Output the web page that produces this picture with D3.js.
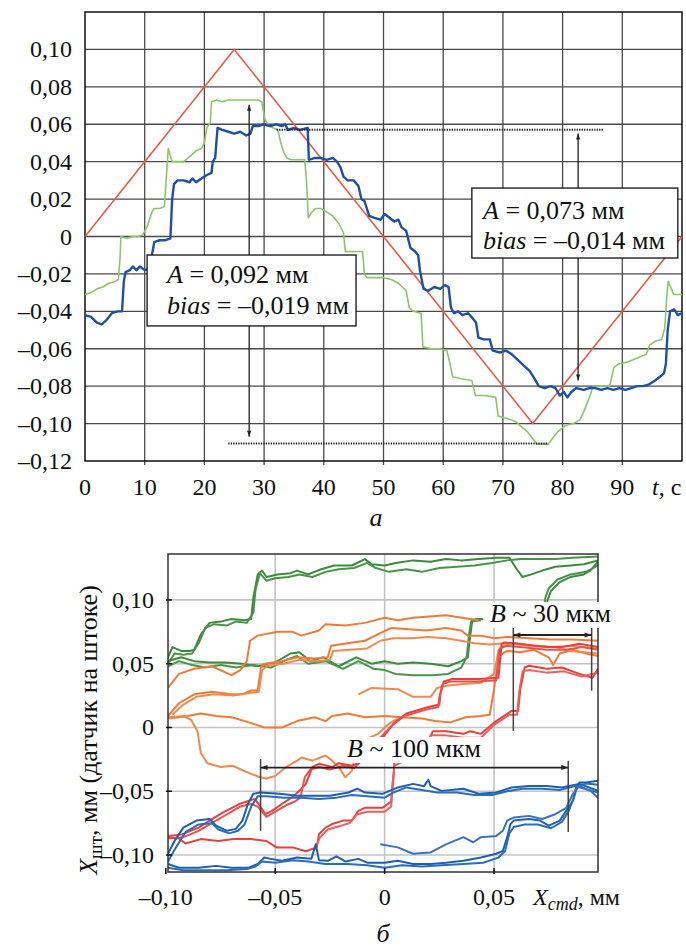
<!DOCTYPE html>
<html><head><meta charset="utf-8">
<script src="https://cdn.jsdelivr.net/npm/d3@7/dist/d3.min.js"></script>
<style>
body{margin:0;background:#fff;font-family:serif}
svg{display:block}
svg text, svg tspan{font-family:"Times New Roman","Liberation Serif",Tinos,serif !important}
</style>
</head><body><svg id="c" width="686" height="947"></svg>
<script>
// ---------- TOP CHART DATA (t, s ; mm) ----------
const topXTicks=[0,10,20,30,40,50,60,70,80,90];
const topYTicks=[-0.12,-0.10,-0.08,-0.06,-0.04,-0.02,0,0.02,0.04,0.06,0.08,0.10];
const redCmd=[[0,0],[25,0.1],[75,-0.1],[100,0]];
const blueRod=[[0,-0.042],[1,-0.043],[2,-0.046],[2.8,-0.047],[3.5,-0.045],[4.5,-0.041],[5.5,-0.040],[6.2,-0.040],[6.5,-0.024],[6.8,-0.019],[7.5,-0.018],[8,-0.016],[8.6,-0.018],[9.2,-0.016],[10,-0.018],[10.8,-0.017],[11.2,-0.010],[11.6,-0.003],[12.5,-0.002],[13.5,-0.002],[14.3,-0.001],[14.6,0.020],[14.9,0.028],[15.5,0.030],[16.5,0.030],[17.5,0.029],[18,0.031],[18.6,0.029],[19.5,0.031],[20.5,0.033],[21.2,0.034],[21.4,0.040],[21.8,0.042],[22.2,0.058],[23,0.057],[24,0.056],[25,0.055],[26,0.056],[27,0.054],[27.7,0.055],[28.1,0.059],[29,0.059],[30,0.060],[31,0.059],[32,0.060],[33,0.059],[33.5,0.060],[34,0.057],[35,0.058],[36,0.057],[37.3,0.058],[37.5,0.041],[38.5,0.042],[39.5,0.042],[40.5,0.041],[41.5,0.042],[42.2,0.040],[42.8,0.037],[43.3,0.032],[44,0.030],[45,0.030],[45.8,0.027],[46.3,0.020],[46.8,0.019],[47.2,0.015],[47.6,0.011],[48.5,0.010],[49.5,0.009],[50.2,0.012],[51,0.010],[51.8,0.008],[52.5,0.009],[53,0.005],[53.8,0.003],[54.5,-0.006],[55.3,-0.008],[55.8,-0.010],[56.1,-0.018],[56.7,-0.028],[57.5,-0.029],[58.5,-0.027],[59.5,-0.028],[60.3,-0.026],[60.9,-0.027],[61.3,-0.038],[61.8,-0.041],[62.5,-0.040],[63.2,-0.042],[64.2,-0.041],[65,-0.044],[65.5,-0.046],[65.9,-0.054],[66.8,-0.055],[67.8,-0.055],[68.3,-0.061],[69.5,-0.062],[70.5,-0.061],[71.5,-0.063],[72.5,-0.066],[73.5,-0.069],[74.5,-0.072],[75.3,-0.076],[76,-0.080],[77,-0.081],[78,-0.080],[78.8,-0.081],[79.5,-0.085],[80.2,-0.083],[80.8,-0.086],[81.5,-0.083],[82.3,-0.081],[83.5,-0.082],[84.5,-0.081],[85.5,-0.081],[86.5,-0.082],[87.5,-0.081],[88.5,-0.082],[89.5,-0.081],[90.5,-0.082],[91.5,-0.081],[92.5,-0.080],[93.5,-0.080],[94.5,-0.079],[95.5,-0.077],[96.3,-0.075],[97,-0.073],[97.3,-0.068],[97.6,-0.050],[98,-0.040],[98.7,-0.039],[99.3,-0.042],[100,-0.041]];
const greenRod=[[0,-0.031],[1,-0.030],[2,-0.028],[3,-0.027],[4,-0.025],[5,-0.024],[5.6,-0.023],[5.9,-0.010],[6.0,0.000],[7,-0.001],[8,0.000],[9,0.000],[9.7,0.001],[10.5,0.006],[11.2,0.013],[11.6,0.015],[12.5,0.015],[13.3,0.016],[13.7,0.035],[13.95,0.047],[14.3,0.043],[14.6,0.040],[15.5,0.040],[16.5,0.040],[17.3,0.042],[18,0.044],[18.7,0.046],[19.5,0.047],[20,0.050],[20.4,0.058],[21,0.061],[21.2,0.072],[22,0.073],[23,0.072],[24,0.073],[25,0.073],[26,0.073],[27,0.073],[28,0.073],[29,0.073],[29.6,0.072],[30.1,0.063],[30.6,0.060],[31.5,0.058],[32.3,0.057],[32.8,0.050],[33.3,0.045],[33.8,0.042],[34.5,0.041],[35.5,0.041],[36.8,0.041],[37.1,0.030],[37.4,0.010],[38,0.013],[38.6,0.015],[39.5,0.015],[40.5,0.013],[41.5,0.011],[42.5,0.007],[43.3,0.002],[43.6,-0.008],[44.5,-0.008],[45.5,-0.008],[46.5,-0.008],[46.8,-0.020],[47.2,-0.022],[48.5,-0.022],[50,-0.022],[51.3,-0.023],[52.5,-0.025],[53.8,-0.029],[54.3,-0.038],[55,-0.040],[56.3,-0.041],[56.6,-0.059],[58,-0.060],[59.5,-0.060],[60.6,-0.061],[61,-0.066],[61.6,-0.075],[63,-0.076],[64.8,-0.077],[65.4,-0.085],[67,-0.085],[68.8,-0.086],[69.2,-0.096],[70.5,-0.097],[72.2,-0.099],[73.2,-0.102],[74,-0.104],[75,-0.108],[75.7,-0.111],[76.5,-0.111],[77.6,-0.111],[78.5,-0.107],[79.3,-0.104],[80.5,-0.101],[81.8,-0.100],[82.9,-0.098],[83.5,-0.094],[84,-0.090],[84.6,-0.085],[85.1,-0.080],[86.5,-0.080],[87.9,-0.080],[88.3,-0.074],[88.6,-0.070],[89.5,-0.068],[91,-0.067],[92.5,-0.065],[94,-0.063],[94.6,-0.058],[95.5,-0.056],[96.6,-0.055],[97.1,-0.049],[97.5,-0.030],[97.7,-0.024],[98.1,-0.027],[98.6,-0.031],[100,-0.031]];
const dotTop=[[32.1,0.057],[86.8,0.057]];
const dotBottom=[[24,-0.1106],[77.6,-0.1106]];
const arrowLeft=[[27.5,0.0704],[27.5,-0.107]];
const arrowRight=[[82.6,0.055],[82.6,-0.077]];

// ---------- BOTTOM CHART DATA (X_cmd, mm ; X_rod, mm) ----------
const botXTicks=[-0.10,-0.05,0,0.05];
const botYTicks=[-0.10,-0.05,0,0.05,0.10];
const green1a=[[-0.099,0.055],[-0.097,0.063],[-0.093,0.060],[-0.089,0.060],[-0.087,0.061],[-0.084,0.073],[-0.080,0.082],[-0.075,0.083],[-0.070,0.085],[-0.064,0.084],[-0.061,0.085],[-0.060,0.102],[-0.058,0.120],[-0.056,0.123],[-0.054,0.118],[-0.049,0.120],[-0.043,0.121],[-0.040,0.123],[-0.035,0.120],[-0.029,0.124],[-0.023,0.127],[-0.015,0.127],[-0.009,0.132],[-0.006,0.128],[0,0.127],[0.005,0.129],[0.013,0.131],[0.021,0.130],[0.028,0.132],[0.035,0.131],[0.043,0.132],[0.051,0.133],[0.057,0.133],[0.060,0.125],[0.063,0.118],[0.067,0.120],[0.072,0.123],[0.078,0.126],[0.085,0.127],[0.091,0.128],[0.0975,0.131]];
const green1b=[[-0.099,0.050],[-0.096,0.058],[-0.092,0.057],[-0.088,0.058],[-0.085,0.066],[-0.082,0.078],[-0.078,0.081],[-0.072,0.080],[-0.068,0.083],[-0.063,0.082],[-0.060,0.090],[-0.059,0.108],[-0.057,0.121],[-0.054,0.115],[-0.050,0.117],[-0.044,0.118],[-0.039,0.120],[-0.033,0.118],[-0.027,0.122],[-0.021,0.124],[-0.014,0.125],[-0.008,0.129],[-0.004,0.125],[0.002,0.122],[0.010,0.124],[0.017,0.122],[0.025,0.125],[0.033,0.126],[0.041,0.127],[0.049,0.129],[0.056,0.131],[0.062,0.132],[0.070,0.132],[0.078,0.132],[0.086,0.133],[0.0975,0.134]];
const green2a=[[0.0735,0.090],[0.0745,0.100],[0.076,0.107],[0.080,0.114],[0.085,0.118],[0.091,0.120],[0.094,0.123],[0.0975,0.130]];
const green2b=[[0.0725,0.092],[0.0735,0.102],[0.075,0.109],[0.079,0.116],[0.085,0.120],[0.092,0.122],[0.0975,0.127]];
const green3a=[[-0.099,0.052],[-0.093,0.055],[-0.087,0.052],[-0.080,0.051],[-0.073,0.051],[-0.065,0.050],[-0.058,0.048],[-0.050,0.051],[-0.043,0.058],[-0.039,0.059],[-0.034,0.052],[-0.028,0.055],[-0.021,0.048],[-0.013,0.055],[-0.006,0.050],[0,0.052],[0.006,0.050],[0.013,0.051],[0.021,0.050],[0.029,0.048],[0.035,0.052],[0.038,0.055],[0.039,0.070],[0.040,0.084],[0.042,0.085],[0.045,0.085]];
const green3b=[[-0.099,0.048],[-0.094,0.052],[-0.088,0.049],[-0.082,0.047],[-0.075,0.049],[-0.068,0.047],[-0.060,0.049],[-0.052,0.047],[-0.045,0.053],[-0.040,0.056],[-0.035,0.050],[-0.027,0.052],[-0.019,0.046],[-0.012,0.052],[-0.005,0.046],[0,0.045],[0.005,0.042],[0.013,0.041],[0.022,0.041],[0.029,0.042],[0.035,0.047],[0.0375,0.055],[0.0385,0.072],[0.0395,0.083],[0.044,0.084]];
const orangeA=[[-0.099,0.031],[-0.094,0.042],[-0.087,0.046],[-0.079,0.048],[-0.070,0.041],[-0.066,0.045],[-0.063,0.052],[-0.0615,0.068],[-0.058,0.072],[-0.049,0.075],[-0.042,0.075],[-0.038,0.072],[-0.030,0.076],[-0.027,0.081],[-0.018,0.080],[-0.009,0.082],[0,0.086],[0.006,0.084],[0.013,0.086],[0.028,0.088],[0.039,0.085],[0.043,0.084]];
const orangeB=[[-0.099,0.009],[-0.094,0.019],[-0.087,0.026],[-0.079,0.028],[-0.070,0.026],[-0.065,0.026],[-0.061,0.029],[-0.058,0.029],[-0.0565,0.047],[-0.055,0.050],[-0.047,0.052],[-0.040,0.055],[-0.032,0.054],[-0.026,0.055],[-0.0245,0.064],[-0.017,0.066],[-0.009,0.068],[-0.002,0.074],[0.003,0.078],[0.011,0.077],[0.019,0.076],[0.028,0.078],[0.035,0.076],[0.038,0.072],[0.044,0.072],[0.050,0.070],[0.056,0.071],[0.066,0.070],[0.076,0.069],[0.086,0.069],[0.0975,0.068]];
const orangeC=[[-0.097,0.010],[-0.092,0.018],[-0.086,0.024],[-0.078,0.026],[-0.069,0.025],[-0.062,0.027],[-0.0575,0.028],[-0.056,0.045],[-0.053,0.049],[-0.046,0.050],[-0.039,0.053],[-0.031,0.052],[-0.025,0.053],[-0.0235,0.060],[-0.016,0.061],[-0.008,0.062],[-0.002,0.068],[0.004,0.070],[0.012,0.070],[0.020,0.071],[0.028,0.070],[0.035,0.068],[0.041,0.066],[0.048,0.065],[0.055,0.066],[0.066,0.064],[0.076,0.063],[0.086,0.064],[0.0975,0.062]];
const orangeD=[[-0.099,0.007],[-0.094,0.008],[-0.090,0.009],[-0.084,0.011],[-0.077,0.009],[-0.070,0.008],[-0.062,0.004],[-0.055,0.000],[-0.047,0.000],[-0.040,0.005],[-0.032,0.008],[-0.027,0.005],[-0.024,0.009],[-0.017,0.011],[-0.009,0.008],[0,0.009],[0.008,0.008],[0.017,0.007],[0.023,0.005],[0.030,0.004],[0.037,0.008],[0.044,0.009],[0.048,0.010],[0.050,0.030],[0.0515,0.048],[0.053,0.057],[0.056,0.060],[0.062,0.059],[0.068,0.061],[0.075,0.055],[0.077,0.049],[0.080,0.058],[0.086,0.061],[0.092,0.058],[0.0975,0.056]];
const orangeE=[[-0.012,0.026],[-0.006,0.031],[0.006,0.030],[0.013,0.024],[0.021,0.024],[0.024,0.031],[0.029,0.033],[0.036,0.034],[0.044,0.035],[0.050,0.042],[0.052,0.060],[0.054,0.064],[0.060,0.066],[0.068,0.064],[0.078,0.063],[0.085,0.060],[0.0975,0.058]];
const orangeF=[[-0.099,0.008],[-0.092,0.009],[-0.0885,0.006],[-0.0855,-0.003],[-0.084,-0.020],[-0.081,-0.028],[-0.075,-0.031],[-0.0695,-0.030],[-0.063,-0.035],[-0.057,-0.039],[-0.054,-0.040],[-0.050,-0.038],[-0.045,-0.031],[-0.040,-0.026],[-0.038,-0.0235],[-0.033,-0.026],[-0.027,-0.022],[-0.024,-0.026],[-0.021,-0.031],[-0.018,-0.039],[-0.015,-0.034],[-0.013,-0.018],[-0.010,-0.013],[-0.007,-0.008],[-0.003,-0.005],[0.002,0.003],[0.006,0.007]];
const red1a=[[-0.099,-0.085],[-0.093,-0.084],[-0.085,-0.0785],[-0.080,-0.073],[-0.074,-0.0667],[-0.0665,-0.060],[-0.062,-0.0575],[-0.0595,-0.056],[-0.0575,-0.060],[-0.0545,-0.068],[-0.0515,-0.0654],[-0.047,-0.060],[-0.0425,-0.055],[-0.039,-0.0497],[-0.036,-0.0442],[-0.033,-0.031],[-0.030,-0.0285],[-0.024,-0.031],[-0.021,-0.028],[-0.015,-0.030],[-0.012,-0.028],[-0.008,-0.022],[-0.004,-0.012],[0,-0.006],[0.004,0.003],[0.010,0.011],[0.020,0.016],[0.025,0.018],[0.0255,0.026],[0.027,0.036],[0.031,0.038],[0.043,0.038],[0.052,0.039],[0.0535,0.0657],[0.055,0.0667],[0.061,0.0657],[0.074,0.063],[0.081,0.063],[0.089,0.0657],[0.0975,0.063]];
const red1b=[[-0.099,-0.087],[-0.092,-0.086],[-0.085,-0.081],[-0.079,-0.075],[-0.073,-0.069],[-0.066,-0.062],[-0.061,-0.060],[-0.058,-0.062],[-0.054,-0.070],[-0.050,-0.066],[-0.045,-0.061],[-0.041,-0.058],[-0.0385,-0.055],[-0.0365,-0.039],[-0.034,-0.033],[-0.030,-0.031],[-0.025,-0.033],[-0.019,-0.030],[-0.014,-0.032],[-0.010,-0.025],[-0.006,-0.016],[-0.002,-0.008],[0.003,0.001],[0.009,0.009],[0.019,0.014],[0.0245,0.016],[0.025,0.024],[0.0265,0.034],[0.030,0.036],[0.042,0.036],[0.051,0.037],[0.0525,0.062],[0.056,0.064],[0.062,0.063],[0.074,0.061],[0.083,0.061],[0.090,0.063],[0.0975,0.061]];
const red2a=[[-0.099,-0.086],[-0.094,-0.087],[-0.091,-0.091],[-0.084,-0.0875],[-0.076,-0.089],[-0.069,-0.0875],[-0.061,-0.0875],[-0.054,-0.089],[-0.0495,-0.094],[-0.042,-0.094],[-0.036,-0.097],[-0.031,-0.094],[-0.030,-0.0836],[-0.027,-0.0785],[-0.024,-0.0757],[-0.019,-0.073],[-0.015,-0.073],[-0.012,-0.0654],[-0.009,-0.063],[-0.001,-0.063],[0.003,-0.058],[0.004,-0.040],[0.0045,-0.026],[0.006,-0.0235],[0.013,-0.021],[0.020,-0.0105],[0.022,-0.003],[0.028,-0.003],[0.036,-0.005],[0.039,-0.003],[0.044,-0.005],[0.051,0.005],[0.058,0.013],[0.061,0.013],[0.062,0.030],[0.064,0.047],[0.066,0.0484],[0.074,0.046],[0.081,0.047],[0.089,0.042],[0.095,0.039],[0.0975,0.046]];
const red2b=[[-0.032,-0.096],[-0.0295,-0.086],[-0.026,-0.080],[-0.022,-0.078],[-0.016,-0.075],[-0.0125,-0.068],[-0.008,-0.066],[0,-0.066],[0.003,-0.062],[0.0035,-0.045],[0.0045,-0.030],[0.008,-0.027],[0.014,-0.024],[0.019,-0.015],[0.021,-0.006],[0.027,-0.006],[0.036,-0.008],[0.044,-0.008],[0.050,0.002],[0.057,0.010],[0.0605,0.010],[0.0615,0.028],[0.063,0.044],[0.066,0.045],[0.074,0.043],[0.082,0.044],[0.090,0.040],[0.0975,0.043]];
const blue1a=[[-0.099,-0.099],[-0.096,-0.089],[-0.092,-0.0785],[-0.086,-0.073],[-0.080,-0.0717],[-0.077,-0.077],[-0.072,-0.081],[-0.068,-0.0795],[-0.065,-0.073],[-0.0625,-0.060],[-0.060,-0.052],[-0.057,-0.051],[-0.048,-0.052],[-0.040,-0.0536],[-0.033,-0.0536],[-0.025,-0.0536],[-0.0165,-0.051],[-0.0125,-0.048],[-0.009,-0.051],[-0.001,-0.052],[0.006,-0.047],[0.013,-0.0442],[0.018,-0.046],[0.020,-0.041],[0.021,-0.046],[0.026,-0.0497],[0.036,-0.048],[0.043,-0.052],[0.051,-0.051],[0.058,-0.047],[0.066,-0.0458],[0.074,-0.0458],[0.081,-0.047],[0.089,-0.0442],[0.0975,-0.0497]];
const blue1b=[[-0.099,-0.105],[-0.095,-0.093],[-0.091,-0.082],[-0.085,-0.076],[-0.079,-0.075],[-0.076,-0.080],[-0.071,-0.083],[-0.067,-0.081],[-0.064,-0.076],[-0.061,-0.062],[-0.058,-0.054],[-0.054,-0.054],[-0.046,-0.055],[-0.038,-0.055],[-0.030,-0.056],[-0.022,-0.055],[-0.015,-0.053],[-0.008,-0.054],[0,-0.055],[0.004,-0.051],[0.010,-0.047],[0.017,-0.049],[0.024,-0.051],[0.033,-0.051],[0.041,-0.053],[0.049,-0.053],[0.056,-0.050],[0.063,-0.048],[0.072,-0.048],[0.080,-0.049],[0.087,-0.046],[0.0975,-0.051]];
const blue2a=[[-0.099,-0.107],[-0.094,-0.110],[-0.085,-0.110],[-0.077,-0.1085],[-0.070,-0.110],[-0.062,-0.110],[-0.058,-0.107],[-0.055,-0.102],[-0.052,-0.103],[-0.047,-0.1045],[-0.040,-0.102],[-0.0335,-0.103],[-0.0315,-0.0916],[-0.030,-0.104],[-0.026,-0.1045],[-0.022,-0.101],[-0.018,-0.105],[-0.012,-0.103],[-0.008,-0.106],[0,-0.106],[0.006,-0.1045],[0.013,-0.107],[0.021,-0.107],[0.028,-0.106],[0.036,-0.1045],[0.044,-0.102],[0.051,-0.099],[0.054,-0.0968],[0.056,-0.086],[0.0575,-0.0757],[0.059,-0.073],[0.066,-0.0717],[0.071,-0.073],[0.075,-0.077],[0.080,-0.073],[0.083,-0.0654],[0.086,-0.0575],[0.0875,-0.047],[0.089,-0.0432],[0.092,-0.0432],[0.0975,-0.0418]];
const blue2b=[[-0.099,-0.110],[-0.092,-0.112],[-0.082,-0.112],[-0.072,-0.112],[-0.063,-0.111],[-0.059,-0.109],[-0.056,-0.105],[-0.050,-0.106],[-0.042,-0.104],[-0.035,-0.105],[-0.027,-0.107],[-0.017,-0.107],[-0.008,-0.108],[0,-0.110],[0.008,-0.108],[0.017,-0.109],[0.026,-0.108],[0.036,-0.107],[0.045,-0.106],[0.052,-0.102],[0.055,-0.097],[0.057,-0.083],[0.059,-0.078],[0.064,-0.076],[0.070,-0.076],[0.076,-0.079],[0.081,-0.074],[0.084,-0.066],[0.0865,-0.055],[0.088,-0.046],[0.092,-0.044],[0.0975,-0.045]];
const blue3=[[-0.002,-0.0916],[0.006,-0.094],[0.013,-0.099],[0.021,-0.098],[0.028,-0.0916],[0.036,-0.086],[0.0405,-0.090],[0.044,-0.086],[0.051,-0.085],[0.054,-0.081],[0.056,-0.073],[0.059,-0.0706],[0.066,-0.0693],[0.072,-0.0717],[0.078,-0.068],[0.083,-0.063],[0.086,-0.052],[0.089,-0.0458],[0.094,-0.0497],[0.0975,-0.055]];
const dimB30=[0.0588,0.0946,0.0725];
const dimB100=[-0.0567,0.0839,-0.0314];

const FONT='Times New Roman, Liberation Serif, serif';
const svg=d3.select('#c');
const defs=svg.append('defs');
defs.append('marker').attr('id','ah').attr('viewBox','0 0 10 10').attr('refX',10).attr('refY',5)
  .attr('markerWidth',9).attr('markerHeight',6).attr('markerUnits','userSpaceOnUse').attr('orient','auto-start-reverse')
  .append('path').attr('d','M0,1.5L10,5L0,8.5Z').attr('fill','#222');
defs.append('marker').attr('id','ah2').attr('viewBox','0 0 10 10').attr('refX',10).attr('refY',5)
  .attr('markerWidth',14).attr('markerHeight',7).attr('markerUnits','userSpaceOnUse').attr('orient','auto-start-reverse')
  .append('path').attr('d','M0,1.5L10,5L0,8.5Z').attr('fill','#222');

const fmt=v=>{ if(Math.abs(v)<1e-9) return '0'; return (v<0?'–':'')+Math.abs(v).toFixed(2).replace('.',','); };
function txt(g){ return g.append('text').attr('font-family',FONT).attr('fill','#111'); }

// ================= TOP =================
const xT=d3.scaleLinear().domain([0,100]).range([85,682]);
const yT=d3.scaleLinear().domain([-0.12,0.12]).range([461,12]);
const gT=svg.append('g');
gT.selectAll('.vg').data(topXTicks.slice(1)).enter().append('line')
  .attr('x1',d=>xT(d)).attr('x2',d=>xT(d)).attr('y1',yT(0.12)).attr('y2',yT(-0.12)+4)
  .attr('stroke','#4a4a4a').attr('stroke-width',1.3);
gT.selectAll('.hg').data(topYTicks.slice(1)).enter().append('line')
  .attr('x1',xT(0)).attr('x2',xT(100)).attr('y1',d=>yT(d)).attr('y2',d=>yT(d))
  .attr('stroke','#4a4a4a').attr('stroke-width',1.3);
gT.append('rect').attr('x',xT(0)).attr('y',yT(0.12)).attr('width',xT(100)-xT(0)).attr('height',yT(-0.12)-yT(0.12))
  .attr('fill','none').attr('stroke','#111').attr('stroke-width',1.5);
topYTicks.forEach(v=>txt(gT).attr('x',72).attr('y',yT(v)+8).attr('text-anchor','end').attr('font-size',24).text(fmt(v)));
topXTicks.forEach(v=>txt(gT).attr('x',xT(v)).attr('y',495).attr('text-anchor','middle').attr('font-size',24).text(v));
const tl=txt(gT).attr('x',652).attr('y',495).attr('font-size',24);
tl.append('tspan').attr('font-style','italic').text('t');tl.append('tspan').text(', с');
txt(gT).attr('x',376).attr('y',526).attr('text-anchor','middle').attr('font-size',26).attr('font-style','italic').text('а');

const lineT=d3.line().x(d=>xT(d[0])).y(d=>yT(d[1]));
gT.append('path').attr('d',lineT(greenRod)).attr('fill','none').attr('stroke','#8cc66c').attr('stroke-width',1.6).attr('stroke-linejoin','round');
gT.append('path').attr('d',lineT(redCmd)).attr('fill','none').attr('stroke','#ec5a44').attr('stroke-width',1.6);
gT.append('path').attr('d',lineT(blueRod)).attr('fill','none').attr('stroke','#1f4fa6').attr('stroke-width',2.4).attr('stroke-linejoin','round');
[dotTop,dotBottom].forEach(s=>gT.append('path').attr('d',lineT(s)).attr('fill','none').attr('stroke','#222').attr('stroke-width',2).attr('stroke-dasharray','1.3,1.2'));
[arrowLeft,arrowRight].forEach(s=>gT.append('path').attr('d',lineT(s)).attr('fill','none').attr('stroke','#222').attr('stroke-width',1.3)
  .attr('marker-start','url(#ah)').attr('marker-end','url(#ah)'));

function box(g,x0,y0,x1,y1,lines){
  g.append('rect').attr('x',x0).attr('y',y0).attr('width',x1-x0).attr('height',y1-y0).attr('fill','#fff').attr('stroke','#111').attr('stroke-width',1.3);
  lines.forEach(l=>{
    const t=txt(g).attr('x',l.x).attr('y',l.y).attr('font-size',26);
    t.append('tspan').attr('font-style','italic').text(l.a);
    t.append('tspan').text(l.b);
  });
}
box(gT,xT(10.4),yT(-0.0099),xT(45.4),yT(-0.0478),[{x:167,y:283,a:'A',b:' = 0,092 мм'},{x:167,y:314,a:'bias',b:' = –0,019 мм'}]);
box(gT,xT(64.8),yT(0.0259),xT(99.3),yT(-0.0115),[{x:483,y:219,a:'A',b:' = 0,073 мм'},{x:483,y:249,a:'bias',b:' = –0,014 мм'}]);

// ================= BOTTOM =================
const xB=d3.scaleLinear().domain([-0.099,0.0975]).range([168,598]);
const yB=d3.scaleLinear().domain([-0.1133,0.136]).range([872,554]);
const gB=svg.append('g');
defs.append('clipPath').attr('id','clipB').append('rect').attr('x',168).attr('y',554).attr('width',430).attr('height',318);
gB.selectAll('.vg').data(botXTicks.slice(1)).enter().append('line')
  .attr('x1',d=>xB(d)).attr('x2',d=>xB(d)).attr('y1',554).attr('y2',872).attr('stroke','#c4c4c4').attr('stroke-width',1.6);
gB.selectAll('.hg').data(botYTicks).enter().append('line')
  .attr('x1',168).attr('x2',598).attr('y1',d=>yB(d)).attr('y2',d=>yB(d)).attr('stroke','#c4c4c4').attr('stroke-width',1.6);

const lineB=d3.line().x(d=>xB(d[0])).y(d=>yB(d[1]));
const gL=gB.append('g').attr('clip-path','url(#clipB)');
const traces=[
  [green1a,'#3d8a3d'],[green1b,'#4a944a'],[green2a,'#3d8a3d'],[green2b,'#4a944a'],[green3a,'#3d8a3d'],[green3b,'#4a944a'],
  [orangeA,'#f07a3a'],[orangeB,'#f07a3a'],[orangeC,'#f28a4e'],[orangeD,'#f07a3a'],[orangeE,'#f08a4e'],[orangeF,'#ee8a50'],
  [red1a,'#e8403c'],[red1b,'#ea5050'],[red2a,'#e8403c'],[red2b,'#ee6060'],
  [blue1a,'#1f5fb2'],[blue1b,'#2a6cbc'],[blue2a,'#1f5fb2'],[blue2b,'#2a6cbc'],[blue3,'#3a72c0']
];
traces.forEach(([d,c])=>gL.append('path').attr('d',lineB(d)).attr('fill','none').attr('stroke',c).attr('stroke-width',2).attr('stroke-linejoin','round'));

gB.append('rect').attr('x',168).attr('y',554).attr('width',430).attr('height',318).attr('fill','none').attr('stroke','#333').attr('stroke-width',1.5);
gB.selectAll('.yt').data(botYTicks).enter().append('line').attr('x1',166).attr('x2',172).attr('y1',d=>yB(d)).attr('y2',d=>yB(d)).attr('stroke','#111').attr('stroke-width',1.5);
gB.selectAll('.xt').data(botXTicks).enter().append('line').attr('x1',d=>xB(d)).attr('x2',d=>xB(d)).attr('y1',868).attr('y2',874).attr('stroke','#111').attr('stroke-width',1.5);
botYTicks.forEach(v=>txt(gB).attr('x',154).attr('y',yB(v)+8).attr('text-anchor','end').attr('font-size',24).text(fmt(v)));
botXTicks.forEach(v=>txt(gB).attr('x',xB(v)).attr('y',905).attr('text-anchor','middle').attr('font-size',24).text(fmt(v)));
const xl=txt(gB).attr('x',533).attr('y',905).attr('font-size',24);
xl.append('tspan').attr('font-style','italic').text('X');
xl.append('tspan').attr('font-style','italic').attr('font-size',18).attr('dy',5).text('cmd');
xl.append('tspan').attr('dy',-5).text(', мм');
txt(gB).attr('x',383).attr('y',942).attr('text-anchor','middle').attr('font-size',26).attr('font-style','italic').text('б');
const yl=txt(gB).attr('transform','translate(97,730) rotate(-90)').attr('text-anchor','middle').attr('font-size',26);
yl.append('tspan').attr('font-style','italic').text('X');
yl.append('tspan').attr('font-size',19).attr('dy',5).text('шт');
yl.append('tspan').attr('dy',-5).text(', мм (датчик на штоке)');

const gD=gB.append('g');
gD.append('line').attr('x1',xB(dimB30[0])).attr('x2',xB(dimB30[0])).attr('y1',yB(0.0785)).attr('y2',yB(-0.0026)).attr('stroke','#444').attr('stroke-width',1.5);
gD.append('line').attr('x1',xB(dimB30[1])).attr('x2',xB(dimB30[1])).attr('y1',yB(0.0785)).attr('y2',yB(0.0288)).attr('stroke','#444').attr('stroke-width',1.5);
gD.append('line').attr('x1',xB(dimB30[0])).attr('x2',xB(dimB30[1])).attr('y1',yB(dimB30[2])).attr('y2',yB(dimB30[2])).attr('stroke','#222').attr('stroke-width',1.8)
  .attr('marker-start','url(#ah2)').attr('marker-end','url(#ah2)');
gD.append('line').attr('x1',xB(dimB100[0])).attr('x2',xB(dimB100[0])).attr('y1',yB(-0.0248)).attr('y2',yB(-0.081)).attr('stroke','#444').attr('stroke-width',1.5);
gD.append('line').attr('x1',xB(dimB100[1])).attr('x2',xB(dimB100[1])).attr('y1',yB(-0.026)).attr('y2',yB(-0.082)).attr('stroke','#444').attr('stroke-width',1.5);
gD.append('line').attr('x1',xB(dimB100[0])).attr('x2',xB(dimB100[1])).attr('y1',yB(dimB100[2])).attr('y2',yB(dimB100[2])).attr('stroke','#222').attr('stroke-width',1.8)
  .attr('marker-start','url(#ah2)').attr('marker-end','url(#ah2)');
function label(x,y,w,main){
  gD.append('rect').attr('x',x-3).attr('y',y-20).attr('width',w).attr('height',26).attr('fill','#fff');
  const t=txt(gD).attr('x',x).attr('y',y).attr('font-size',26);
  t.append('tspan').attr('font-style','italic').text('B');
  t.append('tspan').text(main);
}
label(490,622,126,' ~ 30 мкм');
label(347,757,140,' ~ 100 мкм');
</script></body></html>
